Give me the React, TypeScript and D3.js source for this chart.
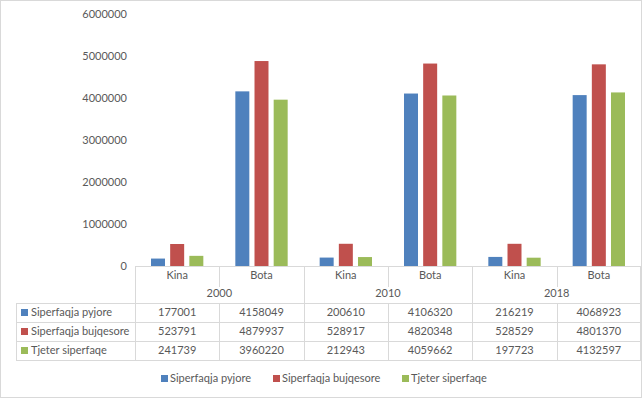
import React from "react";
import * as d3 from "d3";

const years = ["2000", "2010", "2018"];
const regions = ["Kina", "Bota"];
const seriesNames = ["Siperfaqja pyjore", "Siperfaqja bujqesore", "Tjeter siperfaqe"];
const colors = ["#4F81BD", "#C0504D", "#9BBB59"];
// values per series, ordered: 2000 Kina, 2000 Bota, 2010 Kina, 2010 Bota, 2018 Kina, 2018 Bota
const pyjore = [177001, 4158049, 200610, 4106320, 216219, 4068923];
const bujqesore = [523791, 4879937, 528917, 4820348, 528529, 4801370];
const tjeter = [241739, 3960220, 212943, 4059662, 197723, 4132597];
const yTicks = [0, 1000000, 2000000, 3000000, 4000000, 5000000, 6000000];

const W = 642, H = 398;
const plotL = 135, plotR = 641, plotTop = 14, plotBottom = 266;
const tableL = 16;
const rowLines = [303, 322, 341, 360];
const font = "Lato, 'Open Sans', sans-serif";
const textColor = "#595959";
const lineColor = "#d9d9d9";

export default function App() {
  const series = [pyjore, bujqesore, tjeter];
  const cats = years.flatMap((y) => regions.map((r) => `${y}|${r}`));
  const x = d3.scaleBand<string>().domain(cats).range([plotL, plotR]);
  const inner = d3
    .scaleBand<string>()
    .domain(seriesNames)
    .range([16, x.bandwidth() - 16])
    .paddingInner(0.27);
  const y = d3.scaleLinear().domain([0, 6000000]).range([plotBottom, plotTop]);
  const yearX = d3.scaleBand<string>().domain(years).range([plotL, plotR]);

  const legendX = [161, 273, 402];

  return (
    <svg
      width={W}
      height={H}
      style={{ position: "absolute", left: 0, top: 0, background: "#fff" }}
      fontFamily={font}
    >
      <rect x={0.5} y={0.5} width={W - 1} height={H - 1} fill="#fff" stroke={lineColor} />
      {yTicks.map((t) => (
        <text key={t} x={127} y={y(t)} dy="0.35em" textAnchor="end" fontSize={11} fill={textColor}>
          {t}
        </text>
      ))}
      {series.map((vals, si) =>
        vals.map((v, ci) => (
          <rect
            key={`${si}-${ci}`}
            x={(x(cats[ci]) as number) + (inner(seriesNames[si]) as number)}
            y={y(v)}
            width={inner.bandwidth()}
            height={plotBottom - y(v)}
            fill={colors[si]}
          />
        ))
      )}
      {/* table lines */}
      <g stroke={lineColor} strokeWidth={1} shapeRendering="crispEdges">
        <line x1={plotL} x2={plotR} y1={plotBottom + 0.5} y2={plotBottom + 0.5} />
        {rowLines.map((ry) => (
          <line key={ry} x1={tableL} x2={plotR} y1={ry + 0.5} y2={ry + 0.5} />
        ))}
        <line x1={tableL + 0.5} x2={tableL + 0.5} y1={rowLines[0]} y2={rowLines[3]} />
        {years.map((yr) => (
          <line
            key={yr}
            x1={Math.round(yearX(yr) as number) + 0.5}
            x2={Math.round(yearX(yr) as number) + 0.5}
            y1={plotBottom}
            y2={rowLines[3]}
          />
        ))}
        <line x1={plotR - 0.5} x2={plotR - 0.5} y1={plotBottom} y2={rowLines[3]} />
        {cats
          .filter((c) => c.endsWith("Bota"))
          .map((c) => {
            const xx = Math.round(x(c) as number) + 0.5;
            return (
              <g key={c}>
                <line x1={xx} x2={xx} y1={plotBottom} y2={287} />
                <line x1={xx} x2={xx} y1={rowLines[0]} y2={rowLines[3]} />
              </g>
            );
          })}
      </g>
      {cats.map((c) => (
        <text
          key={c}
          x={(x(c) as number) + x.bandwidth() / 2}
          y={275}
          dy="0.35em"
          textAnchor="middle"
          fontSize={11}
          fill={textColor}
        >
          {c.split("|")[1]}
        </text>
      ))}
      {years.map((yr) => (
        <text
          key={yr}
          x={(yearX(yr) as number) + yearX.bandwidth() / 2}
          y={293}
          dy="0.35em"
          textAnchor="middle"
          fontSize={11}
          fill={textColor}
        >
          {yr}
        </text>
      ))}
      {series.map((vals, si) => {
        const cy = (rowLines[si] + rowLines[si + 1]) / 2;
        return (
          <g key={si}>
            <rect x={21} y={cy - 3.5} width={7} height={7} fill={colors[si]} />
            <text x={31} y={cy} dy="0.35em" fontSize={11} fill={textColor}>
              {seriesNames[si]}
            </text>
            {vals.map((v, ci) => (
              <text
                key={ci}
                x={(x(cats[ci]) as number) + x.bandwidth() / 2}
                y={cy}
                dy="0.35em"
                textAnchor="middle"
                fontSize={11}
                fill={textColor}
              >
                {v}
              </text>
            ))}
          </g>
        );
      })}
      {seriesNames.map((n, i) => (
        <g key={n}>
          <rect x={legendX[i]} y={375} width={7} height={7} fill={colors[i]} />
          <text x={legendX[i] + 9} y={378.5} dy="0.35em" fontSize={11} fill={textColor}>
            {n}
          </text>
        </g>
      ))}
    </svg>
  );
}
